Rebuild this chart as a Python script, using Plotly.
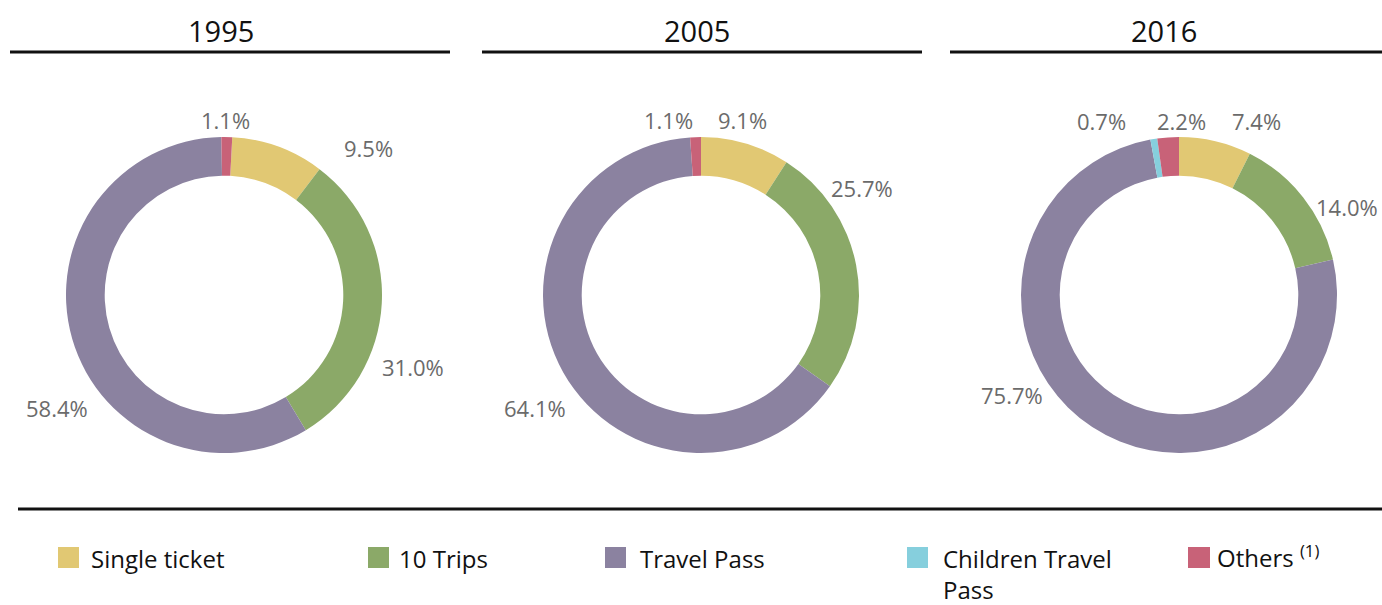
import plotly.graph_objects as go

# Ticket type shares of trips, by year
years = ["1995", "2005", "2016"]
ticket_types = ["Single ticket", "10 Trips", "Travel Pass", "Children Travel Pass", "Others"]
share_1995 = [9.5, 31.0, 58.4, 0.0, 1.1]
share_2005 = [9.1, 25.7, 64.1, 0.0, 1.1]
share_2016 = [7.4, 14.0, 75.7, 0.7, 2.2]
shares = [share_1995, share_2005, share_2016]

colors = ["#E1C873", "#8BA968", "#8B82A0", "#86CFDD", "#C86278"]

W, H = 1382, 605
FONT = "Open Sans"
LABEL_GREY = "#6b6b6b"
INK = "#111111"


def fx(px):
    return px / W


def fy(py):
    return 1 - py / H


# donut placement (pixel centres), radius, hole and start angle
centres = [(224, 295), (701, 295), (1179, 295)]
R = 158
HOLE = 0.755
start_angle = [3, 0, 0]

# title text centre x, and header rule extents
title_x = [221, 697, 1164]
rules = [(10, 450), (482, 922), (950, 1382)]

# data label placement offsets from each donut centre (dx, dy) in px, per slice
label_offsets = [
    {0: (144, -147), 1: (189, 72), 2: (-167, 113), 4: (2, -175)},
    {0: (41, -175), 1: (161, -107), 2: (-166, 113), 4: (-33, -175)},
    {0: (77, -174), 1: (168, -88), 2: (-167, 100), 3: (-78, -174), 4: (2, -174)},
]

fig = go.Figure()
annotations = []
shapes = []

for i, (yr, vals) in enumerate(zip(years, shares)):
    cx, cy = centres[i]
    labels = [t for t, v in zip(ticket_types, vals) if v > 0]
    values = [v for v in vals if v > 0]
    cols = [c for c, v in zip(colors, vals) if v > 0]
    fig.add_trace(go.Pie(
        labels=labels,
        values=values,
        marker=dict(colors=cols, line=dict(width=0)),
        hole=HOLE,
        sort=False,
        direction="clockwise",
        rotation=start_angle[i],
        textinfo="none",
        hoverinfo="label+value",
        showlegend=False,
        domain=dict(x=[fx(cx - R), fx(cx + R)], y=[fy(cy + R), fy(cy - R)]),
    ))
    # percentage labels
    for k, v in enumerate(vals):
        if v <= 0:
            continue
        dx, dy = label_offsets[i][k]
        annotations.append(dict(
            x=fx(cx + dx), y=fy(cy + dy), xref="paper", yref="paper",
            text=f"{v:.1f}%", showarrow=False, xanchor="center", yanchor="middle",
            font=dict(family=FONT, size=22, color=LABEL_GREY),
        ))
    # year heading and rule
    annotations.append(dict(
        x=fx(title_x[i]), y=fy(30), xref="paper", yref="paper",
        text=yr, showarrow=False, xanchor="center", yanchor="middle",
        font=dict(family=FONT, size=29, color=INK),
    ))
    x0, x1 = rules[i]
    shapes.append(dict(type="line", xref="paper", yref="paper",
                       x0=fx(x0), x1=fx(x1), y0=fy(52), y1=fy(52),
                       line=dict(color=INK, width=3)))

# rule above the legend
shapes.append(dict(type="line", xref="paper", yref="paper",
                   x0=fx(18), x1=fx(1382), y0=fy(509), y1=fy(509),
                   line=dict(color=INK, width=3)))

# legend: colour key x-range, text start x, text lines, text y of first line
legend_items = [
    (58, 79, 89, ["Single ticket"], 558),
    (368, 389, 397, ["10 Trips"], 558),
    (605, 626, 638, ["Travel Pass"], 558),
    (907, 928, 941, ["Children Travel", "Pass"], 558),
    (1188, 1210, 1215, ["Others <sup>(1)</sup>"], 556),
]
LINE_STEP = 31
for (k0, k1, tx, lines, ty), col in zip(legend_items, colors):
    shapes.append(dict(type="rect", xref="paper", yref="paper",
                       x0=fx(k0), x1=fx(k1), y0=fy(568), y1=fy(547),
                       fillcolor=col, line=dict(width=0)))
    for j, line in enumerate(lines):
        annotations.append(dict(
            x=fx(tx), y=fy(ty + LINE_STEP * j), xref="paper", yref="paper",
            text=line, showarrow=False, xanchor="left", yanchor="middle",
            font=dict(family=FONT, size=24, color=INK),
        ))

fig.update_layout(
    width=W, height=H,
    margin=dict(l=0, r=0, t=0, b=0),
    paper_bgcolor="white", plot_bgcolor="white",
    annotations=annotations, shapes=shapes,
    showlegend=False,
)

fig.write_html("out.html")
